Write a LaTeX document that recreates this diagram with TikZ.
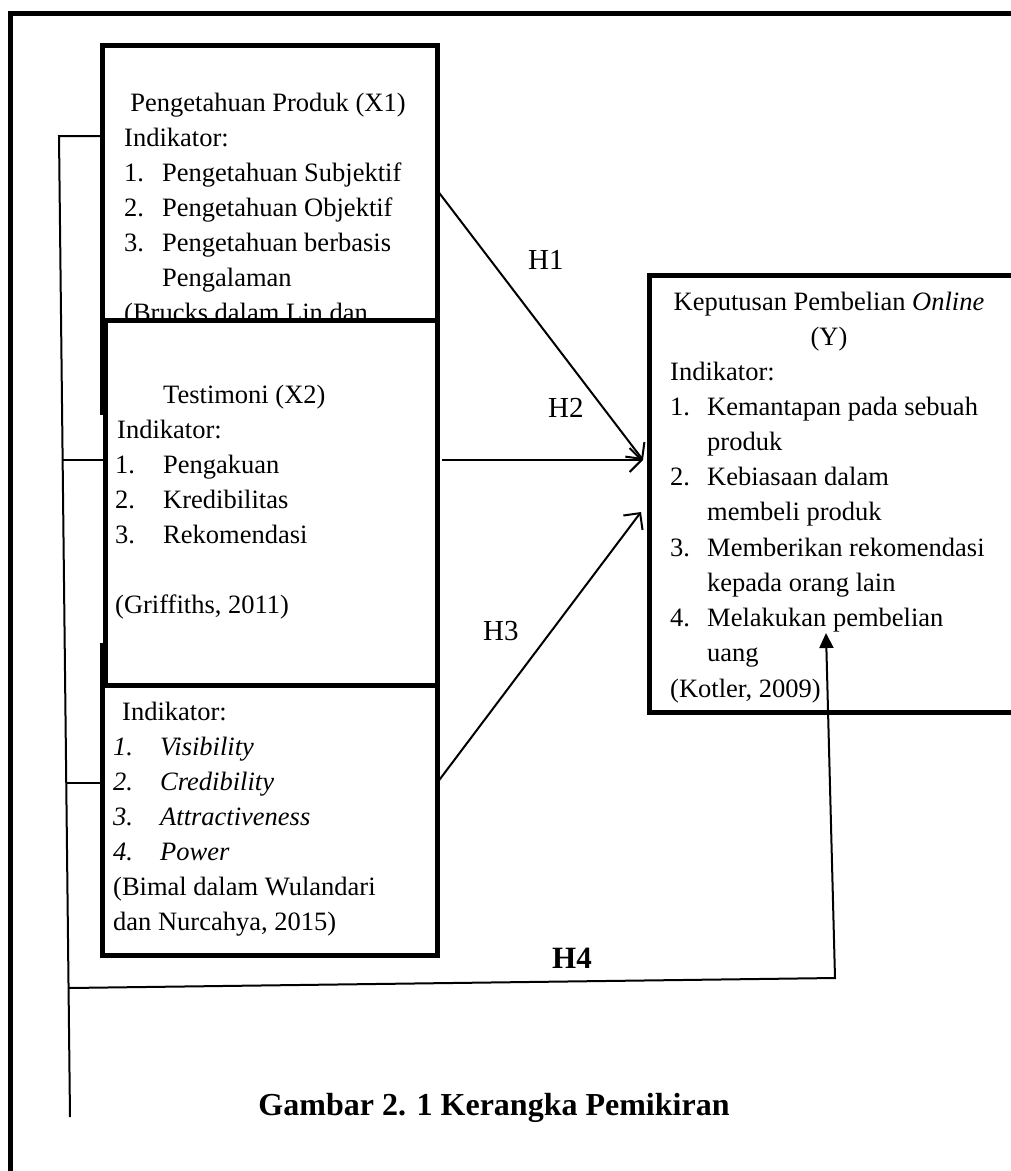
\documentclass[tikz,border=0pt]{standalone}
\usepackage{fontspec}
\setmainfont{Liberation Serif}
\usetikzlibrary{arrows.meta}
\tikzset{
  box/.style={draw, line width=5pt, fill=white, anchor=north west, inner sep=0pt},
  txt/.style={font=\fontsize{26.5}{35}\selectfont, inner sep=0pt, anchor=base west},
  hyp/.style={font=\fontsize{29}{35}\selectfont, inner sep=0pt, anchor=base west},
  link/.style={line width=2pt},
  harrow/.style={line width=2pt, -{Straight Barb[length=12pt,width=24pt]}},
}
\begin{document}
\begin{tikzpicture}[x=1pt,y=-1pt]
    \clip (0,0) rectangle (1011,1171);
    % outer frame
    \draw[line width=5pt] (10,13) rectangle (1100,1300);

    % Box X1 (lower part lies under X2)
    \node[box, minimum width=335pt, minimum height=367pt] (x1) at (100,43) {};
    \node[txt, anchor=base] (x1t) at (268,111) {Pengetahuan Produk (X1)};
    \node[txt] (x1i) at (124,146) {Indikator:};
    \foreach \n/\t [count=\k] in {1./Pengetahuan Subjektif, 2./Pengetahuan Objektif, 3./Pengetahuan berbasis, /Pengalaman} {
        \node[txt] (x1n\k) at (124,146+35*\k) {\n};
        \node[txt] (x1l\k) at (162,146+35*\k) {\t};
    }
    \node[txt] (x1s) at (124,321) {(Brucks dalam Lin dan};

    % Box X3 (top lies under X2)
    \node[box, minimum width=335pt, minimum height=310pt] (x3) at (100,643) {};
    \node[txt] (x3i) at (122,720) {Indikator:};
    \foreach \n/\t [count=\k] in {1./Visibility, 2./Credibility, 3./Attractiveness, 4./Power} {
        \node[txt, font=\fontsize{26.5}{35}\selectfont\itshape] (x3n\k) at (113,720+35*\k) {\n};
        \node[txt, font=\fontsize{26.5}{35}\selectfont\itshape] (x3l\k) at (160,720+35*\k) {\t};
    }
    \node[txt] (x3s) at (113,895) {(Bimal dalam Wulandari};
    \node[txt] (x3s2) at (113,930) {dan Nurcahya, 2015)};

    % Box X2
    \node[box, minimum width=332pt, minimum height=365pt] (x2) at (103,318) {};
    \node[txt] (x2t) at (163,403) {Testimoni (X2)};
    \node[txt] (x2i) at (117,438) {Indikator:};
    \foreach \n/\t [count=\k] in {1./Pengakuan, 2./Kredibilitas, 3./Rekomendasi} {
        \node[txt] (x2n\k) at (115,438+35*\k) {\n};
        \node[txt] (x2l\k) at (163,438+35*\k) {\t};
    }
    \node[txt] (x2s) at (115,613) {(Griffiths, 2011)};

    % Box Y
    \node[box, minimum width=380pt, minimum height=437pt] (y) at (647,273) {};
    \node[txt, anchor=base] (yt) at (829,310) {Keputusan Pembelian \textit{Online}};
    \node[txt, anchor=base] (yt2) at (829,345) {(Y)};
    \node[txt] (yi) at (670,380) {Indikator:};
    \foreach \n/\t [count=\k] in {1./Kemantapan pada sebuah, /produk, 2./Kebiasaan dalam, /membeli produk, 3./Memberikan rekomendasi, /kepada orang lain, 4./Melakukan pembelian, /uang} {
        \node[txt] (yn\k) at (670,380+35.2*\k) {\n};
        \node[txt] (yl\k) at (707,380+35.2*\k) {\t};
    }
    \node[txt] (ys) at (670,697) {(Kotler, 2009)};

    % left connector
    \coordinate (c1) at (59,136);
    \coordinate (c4) at (70,1117);
    \coordinate (b2) at (62.6,460);
    \coordinate (b3) at (66.2,783);
    \coordinate (b4) at (68.6,988);
    \draw[link] (x1.west |- c1) -- (c1) -- (c4);
    \draw[link] (b2) -- (b2 -| x2.west);
    \draw[link] (b3) -- (b3 -| x3.west);

    % hypotheses
    \coordinate (h1s) at (437,190);
    \coordinate (h2s) at (442,460);
    \coordinate (h3s) at (437,783);
    \coordinate (y1) at (643,460);
    \coordinate (y3) at (641,512);
    \draw[harrow] (h1s) -- (y1);
    \draw[harrow] (h2s) -- (y1);
    \draw[harrow] (h3s) -- (y3);
    \coordinate (h4c) at (835,978);
    \coordinate (h4t) at (826,633);
    \draw[link, -{Triangle[length=15pt,width=14pt]}] (b4) -- (h4c) -- (h4t);

    \node[hyp] (h1) at (528,269) {H1};
    \node[hyp] (h2) at (548,417) {H2};
    \node[hyp] (h3) at (483,640) {H3};
    \node[font=\bfseries\fontsize{31}{35}\selectfont, inner sep=0pt, anchor=base] (h4) at (572,968) {H4};

    \node[font=\bfseries\fontsize{32}{35}\selectfont, inner sep=0pt, anchor=base] (cap) at (494,1115) {Gambar 2. 1 Kerangka Pemikiran};
\end{tikzpicture}
\end{document}
